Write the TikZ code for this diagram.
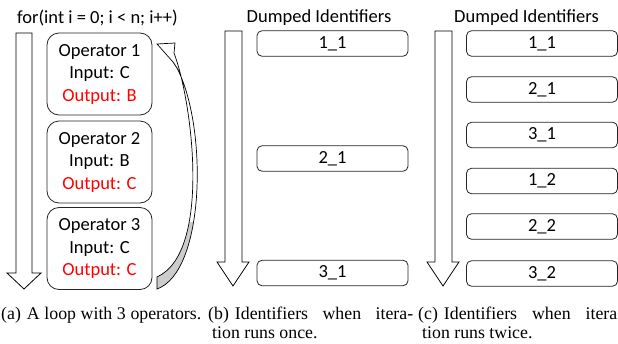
\documentclass[tikz,border=0pt]{standalone}
\usepackage{fontspec}
\newfontfamily\carlito{Carlito}
\newfontfamily\capserif{Liberation Serif}
\begin{document}
\begin{tikzpicture}[x=1pt,y=-1pt,
  sans/.style={font=\carlito\fontsize{18.5}{22.5}\selectfont},
  opbox/.style={sans, draw=black!85, line width=0.8pt, rounded corners=12pt, minimum width=105pt, minimum height=82pt, inner sep=0pt, align=center},
  idbox/.style={sans, draw=black!85, line width=0.8pt, rounded corners=5pt, minimum width=151pt, minimum height=25.5pt, inner sep=0pt},
  hollow/.style={draw=black, line width=0.8pt, fill=white, line join=miter},
  bandline/.style={draw=black, line width=0.7pt, line join=miter},
  captext/.style={font=\capserif\fontsize{17.8}{19}\selectfont, anchor=base west, inner sep=0pt},
  titletext/.style={sans, anchor=base, inner sep=0pt}]
\clip (0,0) rectangle (618,343);
\fill[white] (0,0) rectangle (618,343);

% titles
\node[titletext] (t1) at (97.5,23) {for(int i = 0; i < n; i++)};
\node[titletext] (t2) at (319,22) {Dumped Identifiers};
\node[titletext] (t3) at (526.5,22) {Dumped Identifiers};

% hollow arrows
\path[hollow] (16,33) -- (32,33) -- (32,273) -- (41,273) -- (24,289) -- (7,273) -- (16,273) -- cycle;
\path[hollow] (225,31) -- (242,31) -- (242,262) -- (249,262) -- (233,286) -- (217,262) -- (225,262) -- cycle;
\path[hollow] (435,31) -- (452,31) -- (452,262) -- (459,262) -- (443,286) -- (427,262) -- (435,262) -- cycle;

% operators
\node[opbox] (op1) at (99.5,74) {Operator 1\\Input: C\\\textcolor{red}{Output: B}};
\node[opbox] (op2) at (99.5,162) {Operator 2\\Input: B\\\textcolor{red}{Output: C}};
\node[opbox] (op3) at (99.5,248.5) {Operator 3\\Input: C\\\textcolor{red}{Output: C}};

% curved loop arrow
\def\bandpath{(157,44) -- (175,43) -- (174,53) .. controls (192,100) and (212,252) .. (157,277) -- (157,289) .. controls (205,272) and (208,128) .. (177,68) -- (173,62) -- cycle}
\fill[white] \bandpath;
\begin{scope}
  \clip (150,222) rectangle (215,300);
  \fill[gray!40] \bandpath;
\end{scope}
\path[bandline] \bandpath;

% identifiers (b)
\node[idbox] (b11) at (332.5,43.5) {1\_1};
\node[idbox] (b21) at (332.5,158.5) {2\_1};
\node[idbox] (b31) at (332.5,273) {3\_1};

% identifiers (c)
\node[idbox] (c11) at (542,43.5) {1\_1};
\node[idbox] (c21) at (542,89.5) {2\_1};
\node[idbox] (c31) at (542,135) {3\_1};
\node[idbox] (c12) at (542,181) {1\_2};
\node[idbox] (c22) at (542,226.5) {2\_2};
\node[idbox] (c32) at (542,273.5) {3\_2};

% captions
\node[captext] (ca) at (1,319) {\makebox[200pt][s]{(a)\hskip 6pt A loop with 3 operators.}};
\node[captext] (cb1) at (208,319) {\makebox[205pt][s]{(b)\hskip 6pt Identifiers when itera-}};
\node[captext] (cb2) at (212,338) {tion runs once.};
\node[captext] (cc1) at (418,319) {\makebox[205pt][s]{(c)\hskip 6pt Identifiers when itera-}};
\node[captext] (cc2) at (422,338) {tion runs twice.};
\end{tikzpicture}
\end{document}
